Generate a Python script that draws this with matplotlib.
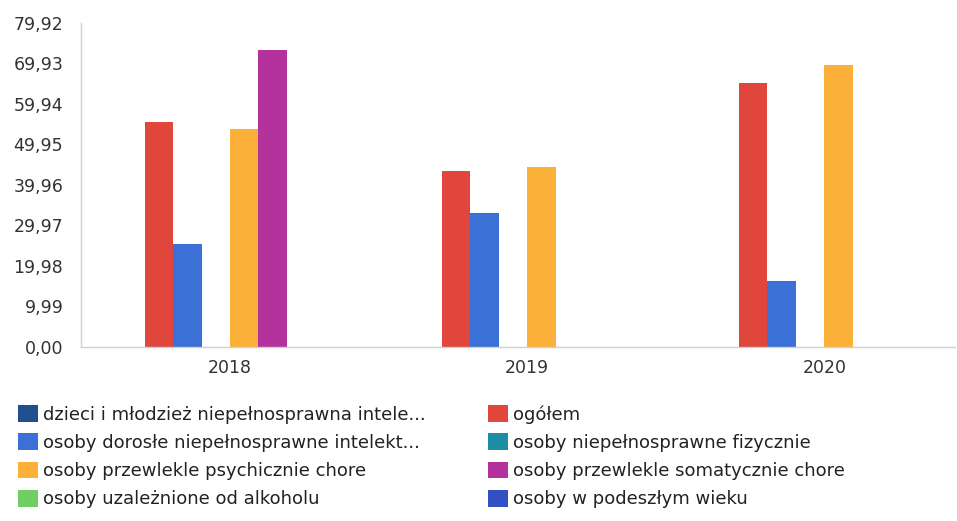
import numpy as np
import matplotlib
matplotlib.use("Agg")
import matplotlib.pyplot as plt
from matplotlib.patches import Patch

years = ["2018", "2019", "2020"]

series_names = [
    "dzieci i młodzież niepełnosprawna intele...",
    "ogółem",
    "osoby dorosłe niepełnosprawne intelekt...",
    "osoby niepełnosprawne fizycznie",
    "osoby przewlekle psychicznie chore",
    "osoby przewlekle somatycznie chore",
    "osoby uzależnione od alkoholu",
    "osoby w podeszłym wieku",
]
dzieci = [0, 0, 0]
ogolem = [55.5, 43.5, 65.0]
dorosle = [25.4, 33.0, 16.2]
fizycznie = [0, 0, 0]
psychicznie = [53.8, 44.4, 69.6]
somatycznie = [73.3, 0, 0]
uzaleznione = [0, 0, 0]
podeszly = [0, 0, 0]
series_values = [dzieci, ogolem, dorosle, fizycznie, psychicznie,
                 somatycznie, uzaleznione, podeszly]

colors = ["#1f4f8f", "#e0463c", "#3b70d6", "#1b8ea3",
          "#fbb03a", "#b3329c", "#6fcf62", "#3350c2"]

yticks = [0, 9.99, 19.98, 29.97, 39.96, 49.95, 59.94, 69.93, 79.92]
ytick_labels = [f"{v:.2f}".replace(".", ",") for v in yticks]

fig = plt.figure(figsize=(9.57, 5.21), dpi=100)
ax = fig.add_axes([0.085, 0.334, 0.913, 0.622])

x = np.arange(len(years))
w = 0.0956
for i, (vals, c) in enumerate(zip(series_values, colors)):
    ax.bar(x + (i - 3.5) * w, vals, width=w, color=c, linewidth=0)

ax.set_xlim(-0.5, 2.44)
ax.set_ylim(0, 79.92)
ax.set_yticks(yticks)
ax.set_yticklabels(ytick_labels, fontsize=12.5, color="#333333")
ax.set_xticks(x)
ax.set_xticklabels(years, fontsize=12.5, color="#333333")
ax.tick_params(axis="y", length=0, pad=13)
ax.tick_params(axis="x", length=0, pad=9)
for s in ["top", "right"]:
    ax.spines[s].set_visible(False)
for s in ["left", "bottom"]:
    ax.spines[s].set_color("#d0d0d0")
    ax.spines[s].set_linewidth(1)

# legend: two columns, alphabetical order row by row
handles = [Patch(facecolor=c, edgecolor="none") for c in colors]
left_idx = [0, 2, 4, 6]
right_idx = [1, 3, 5, 7]
for idx, xpos in [(left_idx, 0.019), (right_idx, 0.510)]:
    fig.legend([handles[i] for i in idx], [series_names[i] for i in idx],
               loc="upper left", bbox_to_anchor=(xpos, 0.2226),
               frameon=False, fontsize=13, handlelength=1.1, handleheight=1.05,
               handletextpad=0.3, labelspacing=0.54, borderaxespad=0,
               borderpad=0, labelcolor="#222222")

fig.savefig("out.png", dpi=100)
